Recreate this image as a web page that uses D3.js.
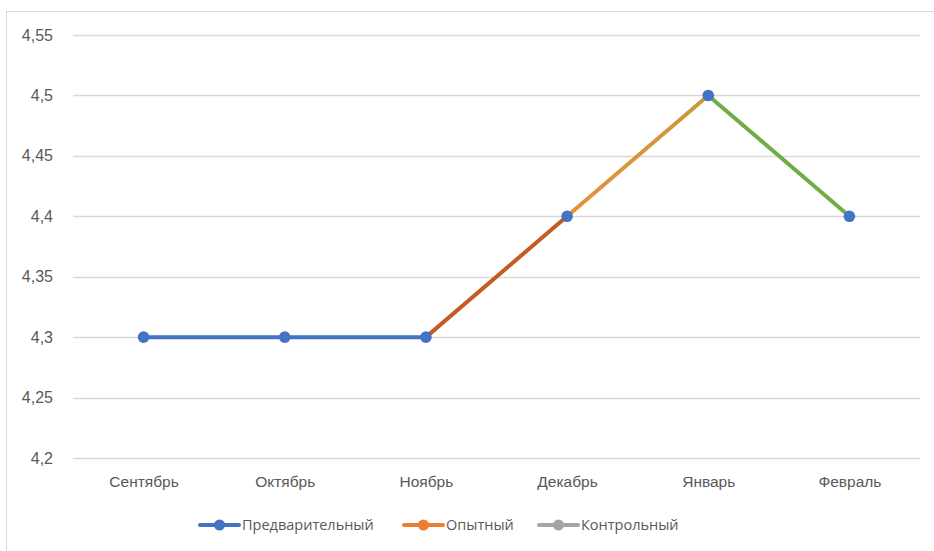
<!DOCTYPE html>
<html><head><meta charset="utf-8">
<script src="https://cdn.jsdelivr.net/npm/d3@7"></script>
<style>
html,body{margin:0;padding:0;background:#fff;}
svg{display:block;font-family:"Open Sans","Noto Sans",sans-serif;}
</style></head>
<body><svg id="c" width="934" height="551"></svg>
<script>
const categories = ["Сентябрь","Октябрь","Ноябрь","Декабрь","Январь","Февраль"];
const values = [4.3, 4.3, 4.3, 4.4, 4.5, 4.4];
const yTicks = [4.2, 4.25, 4.3, 4.35, 4.4, 4.45, 4.5, 4.55];
const seriesNames = ["Предварительный","Опытный","Контрольный"];
const seriesColors = ["#4472C4","#ED7D31","#A5A5A5"];
// segment colors (start, end) for each segment between consecutive points
const segStart = ["#4472C4","#4472C4","#C55A22","#E8913A","#70AD47"];
const segEnd   = ["#4472C4","#4472C4","#C55A22","#C49A3E","#70AD47"];

(function(){
const svg = d3.select("#c");
const W = 934, H = 551;
const pL = 73, pR = 920, pT = 35, pB = 458;

svg.append("rect").attr("x",6.5).attr("y",11.5).attr("width",W+10).attr("height",H+10)
  .attr("fill","#fff").attr("stroke","#d9d9d9").attr("stroke-width",1);

const x = d3.scalePoint().domain(categories).range([pL, pR]).padding(0.5);
const y = d3.scaleLinear().domain([4.2, 4.55]).range([pB, pT]);

svg.append("g").selectAll("line").data(yTicks).join("line")
  .attr("x1",pL).attr("x2",pR)
  .attr("y1",d=>Math.round(y(d))+0.5).attr("y2",d=>Math.round(y(d))+0.5)
  .attr("stroke","#d9d9d9").attr("stroke-width",1.3);

const fmt = d => String(+d.toFixed(2)).replace(".", ",");
const yAxis = d3.axisLeft(y).tickValues(yTicks).tickFormat(fmt).tickSize(0).tickPadding(0);
const gy = svg.append("g").attr("transform",`translate(53,0)`).call(yAxis);
gy.select(".domain").remove();
gy.selectAll("text").attr("fill","#595959").style("font-size","16px").style("font-family","inherit");

const xAxis = d3.axisBottom(x).tickSize(0).tickPadding(0);
const gx = svg.append("g").attr("transform",`translate(0,${pB+18})`).call(xAxis);
gx.select(".domain").remove();
gx.selectAll("text").attr("fill","#595959").style("font-size","15.5px").style("font-family","inherit");

const defs = svg.append("defs");
const pts = categories.map((c,i)=>({x:x(c), y:y(values[i])}));
for (let i=0;i<pts.length-1;i++){
  const a=pts[i], b=pts[i+1];
  const id="g"+i;
  const g = defs.append("linearGradient").attr("id",id).attr("gradientUnits","userSpaceOnUse")
    .attr("x1",a.x).attr("y1",a.y).attr("x2",b.x).attr("y2",b.y);
  g.append("stop").attr("offset","0%").attr("stop-color",segStart[i]);
  g.append("stop").attr("offset","100%").attr("stop-color",segEnd[i]);
  svg.append("line").attr("x1",a.x).attr("y1",a.y).attr("x2",b.x).attr("y2",b.y)
    .attr("stroke",`url(#${id})`).attr("stroke-width",4).attr("stroke-linecap","round");
}
svg.append("g").selectAll("circle").data(pts).join("circle")
  .attr("cx",d=>d.x).attr("cy",d=>d.y).attr("r",5.8).attr("fill","#4472C4");

const legX = [200, 404, 539];
const ly = 525;
const lg = svg.append("g");
seriesNames.forEach((n,i)=>{
  const g = lg.append("g").attr("transform",`translate(${legX[i]},${ly})`);
  g.append("line").attr("x1",0).attr("x2",39).attr("y1",0).attr("y2",0)
    .attr("stroke",seriesColors[i]).attr("stroke-width",4).attr("stroke-linecap","round");
  g.append("circle").attr("cx",19.5).attr("cy",0).attr("r",5.5).attr("fill",seriesColors[i]);
  g.append("text").attr("x",42).attr("y",0).attr("dy","0.35em").attr("fill","#595959")
    .style("font-size","14.5px").text(n);
});
})();
</script></body></html>
